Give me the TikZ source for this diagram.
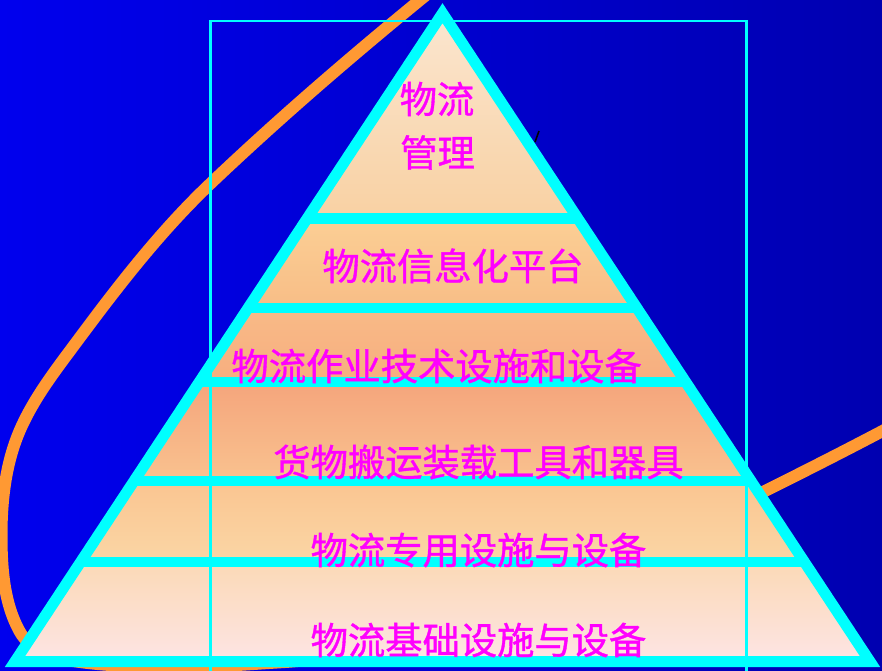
\documentclass[tikz,border=0pt]{standalone}
\usepackage{fontspec}
\newfontfamily\cjk[FakeBold=1]{Noto Sans CJK SC}
\definecolor{bgL}{HTML}{0000EE}
\definecolor{bgM}{HTML}{0000D6}
\definecolor{bgR}{HTML}{0000B0}
\definecolor{ora}{HTML}{FF9933}
\definecolor{cya}{HTML}{00FFFF}
\definecolor{mag}{HTML}{FF00FF}
\definecolor{bAt}{HTML}{FAE6D0}
\definecolor{bAm}{HTML}{FFE7EE}
\definecolor{bAb}{HTML}{F9D1A3}
\definecolor{bBt}{HTML}{FBCF95}
\definecolor{bBb}{HTML}{F8BD86}
\definecolor{bCt}{HTML}{F8BA87}
\definecolor{bCb}{HTML}{F7AE7F}
\definecolor{bDt}{HTML}{F5A57C}
\definecolor{bDb}{HTML}{F9C28F}
\definecolor{bEt}{HTML}{FAC591}
\definecolor{bEb}{HTML}{FAD6A5}
\definecolor{bFt}{HTML}{FBD9B6}
\definecolor{bFb}{HTML}{FDE5E6}
\tikzset{
  orangeline/.style={draw=ora, line width=12pt},
  triline/.style={draw=cya, line width=11pt, line join=miter},
  sepline/.style={draw=cya, line width=10.5pt},
  frameline/.style={draw=cya, line width=2.8pt},
  lbl/.style={font=\cjk\fontsize{37.3pt}{44pt}\selectfont, text=mag, inner sep=0pt, anchor=base}
}
\begin{document}
\begin{tikzpicture}[x=1pt,y=-1pt]
\useasboundingbox (0,0) rectangle (882,670);
\begin{scope}
\clip (0,0) rectangle (882,670);
% background
\shade[left color=bgL, middle color=bgM, right color=bgR] (0,0) rectangle (882,670);
% orange ellipse-like curve
\draw[orangeline] (490,-60) .. controls (467,-40) and (440,-16) .. (420,0)
  .. controls (348.1,59) and (277.4,119.9) .. (210,184)
  .. controls (160.7,230.9) and (118.5,285.4) .. (78,340)
  .. controls (56.6,368.9) and (34.4,397) .. (20,430)
  .. controls (5.8,462.6) and (1.5,499.5) .. (1.5,535)
  .. controls (1.5,568) and (3.8,603.3) .. (20,632)
  .. controls (29.8,649.4) and (53.4,658) .. (73,661)
  .. controls (107.3,666.2) and (143,667) .. (178,667)
  .. controls (218,667) and (250,664) .. (285,662)
  .. controls (445,651) and (607,570) .. (767,490)
  .. controls (825,461) and (882,432) .. (940,400);
% pyramid
\coordinate (A) at (442.5,13.2);
\coordinate (L) at (15,661.5);
\coordinate (R) at (870,661.5);
\begin{scope}
\clip (A) -- (L) -- (R) -- cycle;
\shade[top color=bAt, middle color=bAm, bottom color=bAb] (0,10) rectangle (882,218.5);
\shade[top color=bBt, bottom color=bBb] (0,218.5) rectangle (882,308);
\shade[top color=bCt, bottom color=bCb] (0,308) rectangle (882,382);
\shade[top color=bDt, bottom color=bDb] (0,382) rectangle (882,481);
\shade[top color=bEt, bottom color=bEb] (0,481) rectangle (882,562);
\shade[top color=bFt, bottom color=bFb] (0,562) rectangle (882,665);
\coordinate (s1a) at (0,218.5); \coordinate (s1b) at (882,218.5);
\coordinate (s2a) at (0,308);   \coordinate (s2b) at (882,308);
\coordinate (s3a) at (0,382);   \coordinate (s3b) at (882,382);
\coordinate (s4a) at (0,481);   \coordinate (s4b) at (882,481);
\coordinate (s5a) at (0,562);   \coordinate (s5b) at (882,562);
\draw[sepline] (s1a) -- (s1b);
\draw[sepline] (s2a) -- (s2b);
\draw[sepline] (s3a) -- (s3b);
\draw[sepline] (s4a) -- (s4b);
\draw[sepline] (s5a) -- (s5b);
\end{scope}
\draw[triline] (A) -- (L) -- (R) -- cycle;
% frame
\coordinate (f1) at (210.7,700);
\coordinate (f2) at (210.7,21);
\coordinate (f3) at (746.3,21);
\coordinate (f4) at (746.3,700);
\draw[frameline] (f1) -- (f2) -- (f3) -- (f4);
% small mark
\coordinate (m1) at (535,142);
\coordinate (m2) at (539,131);
\draw[black, line width=1.6pt] (m1) -- (m2);
\end{scope}
% labels
\node[lbl] (t1) at (437,113.2) {物流};
\node[lbl] (t2) at (437.5,166.7) {管理};
\node[lbl] (t3) at (453,280.2) {物流信息化平台};
\node[lbl] (t4) at (436.7,380.2) {物流作业技术设施和设备};
\node[lbl] (t5) at (478.5,476.2) {货物搬运装载工具和器具};
\node[lbl] (t6) at (478.5,564.2) {物流专用设施与设备};
\node[lbl] (t7) at (478.5,654.2) {物流基础设施与设备};
\end{tikzpicture}
\end{document}
